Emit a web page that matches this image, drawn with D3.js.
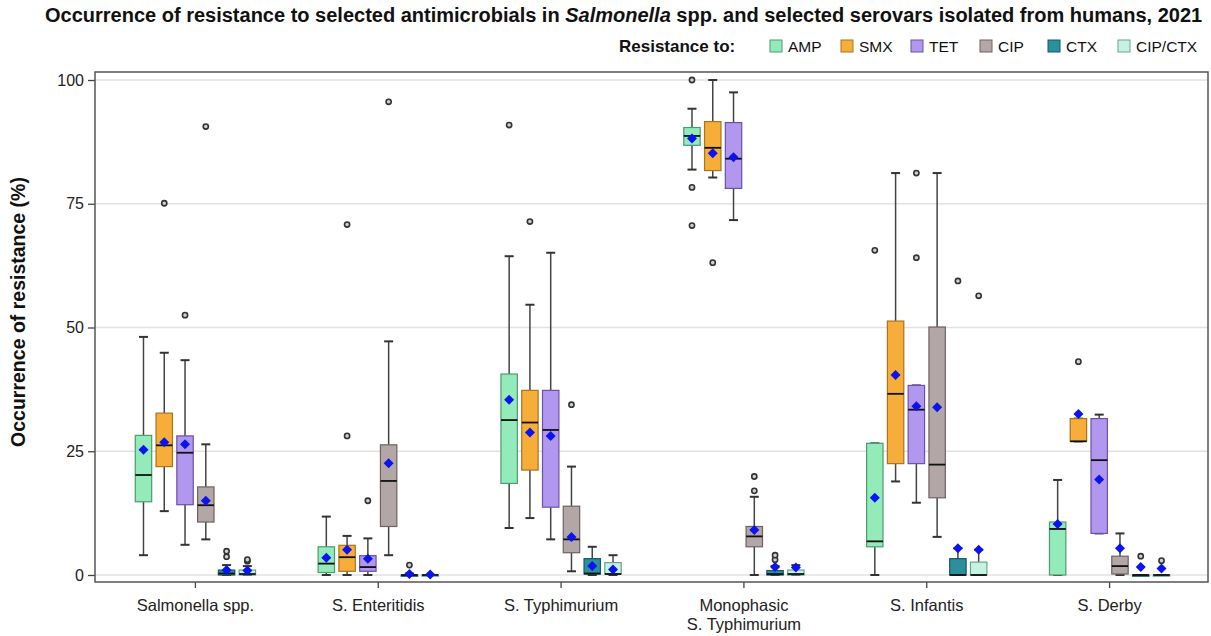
<!DOCTYPE html>
<html><head><meta charset="utf-8">
<script src="https://cdn.jsdelivr.net/npm/d3@7"></script>
<style>body{margin:0;background:#fff}svg{display:block}text{font-family:"Liberation Sans",Arial,sans-serif}</style>
</head><body><svg id="c" width="1211" height="636"></svg>
<script>
const categories = ["Salmonella spp.", "S. Enteritidis", "S. Typhimurium", "Monophasic\nS. Typhimurium", "S. Infantis", "S. Derby"];
const drugs = ["AMP", "SMX", "TET", "CIP", "CTX", "CIP/CTX"];
const yTicks = [0, 25, 50, 75, 100];
// each row: one category, each entry: one drug
const whiskerLow = [
  [4.0, 12.9, 6.1, 7.2, 0, 0],
  [0, 0, 0, 4.0, 0, 0],
  [9.5, 11.5, 7.2, 0.75, 0, 0],
  [81.9, 80.3, 71.7, 0, 0, 0],
  [0, 18.9, 14.6, 7.7, 0, 0],
  [0, 27.0, 8.4, 0, 0, 0]
];
const q1 = [
  [14.8, 21.9, 14.2, 10.7, 0, 0],
  [0.5, 0.75, 0.75, 9.8, 0, 0],
  [18.5, 21.2, 13.7, 4.5, 0.2, 0.2],
  [86.8, 81.7, 78.1, 5.7, 0, 0],
  [5.7, 22.5, 22.5, 15.6, 0, 0],
  [0, 27.0, 8.4, 0.2, 0, 0]
];
const median = [
  [20.2, 26.2, 24.7, 14.1, 0.3, 0.2],
  [2.3, 3.6, 1.6, 19.0, 0, 0],
  [31.3, 30.8, 29.3, 7.2, 0.3, 0.2],
  [88.7, 86.3, 84.1, 7.8, 0.2, 0.2],
  [6.8, 36.6, 33.4, 22.3, 0, 0],
  [9.3, 27.0, 23.2, 1.8, 0, 0]
];
const q3 = [
  [28.2, 32.7, 28.1, 17.8, 1.0, 1.0],
  [5.7, 6.0, 3.9, 26.3, 0, 0],
  [40.6, 37.3, 37.3, 13.9, 3.3, 2.5],
  [90.4, 91.6, 91.4, 9.8, 0.9, 1.0],
  [26.6, 51.3, 38.3, 50.1, 3.3, 2.6],
  [10.7, 31.6, 31.6, 3.8, 0, 0]
];
const whiskerHigh = [
  [48.1, 44.9, 43.4, 26.4, 2.0, 1.8],
  [11.8, 7.9, 7.4, 47.2, 0.3, 0],
  [64.4, 54.6, 65.1, 21.9, 5.7, 4.0],
  [94.2, 100, 97.5, 15.8, 1.8, 2.0],
  [26.6, 81.2, 38.3, 81.2, 5.4, 5.1],
  [19.2, 31.6, 32.4, 8.4, 0, 0]
];
const means = [
  [25.3, 26.8, 26.4, 15.0, 1.0, 0.9],
  [3.5, 5.1, 3.3, 22.6, 0.2, 0.1],
  [35.4, 28.8, 28.1, 7.7, 1.8, 1.1],
  [88.2, 85.2, 84.4, 9.1, 1.6, 1.5],
  [15.6, 40.4, 34.1, 33.9, 5.4, 5.1],
  [10.3, 32.5, 19.3, 5.4, 1.6, 1.3]
];
const outliers = [
  [[], [75.1], [52.5], [90.6], [3.7, 4.8], [2.8, 3.1]],
  [[], [28.1, 70.8], [15.0], [95.6], [2.0], []],
  [[90.9], [71.4], [], [34.4], [], []],
  [[100, 78.3, 70.6], [63.1], [], [17.0, 19.9], [3.1, 4.0], []],
  [[65.6], [], [64.1, 81.2], [], [59.4], [56.4]],
  [[], [43.1], [], [], [3.8], [2.9]]
];
const fills = ["#93ebba", "#f6ad3a", "#b297ee", "#b2a6a6", "#2b8f9c", "#c6f3e1"];
const strokes = ["#4f9a70", "#a8741e", "#6a52a8", "#6e6262", "#155a64", "#6aa490"];

const svg = d3.select("#c");
const frame = {l: 95, r: 1208, t: 72, b: 582};
const x = d3.scaleBand().domain(categories).range([104, 1201]).padding(0);
const xi = d3.scaleBand().domain(drugs).range([-64.5, 64.5]).padding(0.21);
const y = d3.scaleLinear().domain([0, 100]).range([575, 80]);

// title
const title = svg.append("text").attr("x", 45).attr("y", 22)
  .attr("font-size", 16).attr("font-weight", "bold").attr("fill", "#111");
title.append("tspan").text("Occurrence of resistance to selected antimicrobials in ");
title.append("tspan").attr("font-style", "italic").text("Salmonella");
title.append("tspan").text(" spp. and selected serovars isolated from humans, 2021");
const tw = title.node().getComputedTextLength();
title.attr("font-size", 16 * 1158 / tw);

// legend
const legY = 46;
svg.append("text").attr("x", 619).attr("y", legY + 6).attr("font-size", 17)
  .attr("font-weight", "bold").attr("fill", "#111").text("Resistance to:");
const legX = [776, 847, 917, 986, 1054, 1124];
drugs.forEach((d, i) => {
  svg.append("rect").attr("x", legX[i] - 6).attr("y", legY - 6).attr("width", 12).attr("height", 12)
    .attr("fill", fills[i]).attr("stroke", strokes[i]).attr("stroke-width", 1);
  svg.append("text").attr("x", legX[i] + 12).attr("y", legY + 6).attr("font-size", 15.5)
    .attr("fill", "#111").text(d);
});

// gridlines
svg.append("g").selectAll("line").data(yTicks).join("line")
  .attr("x1", frame.l).attr("x2", frame.r)
  .attr("y1", d => y(d)).attr("y2", d => y(d))
  .attr("stroke", "#e2e2e2").attr("stroke-width", 1.5);

// y axis
const ya = svg.append("g").attr("transform", `translate(${frame.l},0)`)
  .call(d3.axisLeft(y).tickValues(yTicks).tickSize(7).tickPadding(4));
ya.select(".domain").remove();
ya.selectAll("line").attr("stroke", "#444").attr("stroke-width", 1.3);
ya.selectAll("text").attr("font-size", 16).attr("fill", "#222")
  .attr("font-family", '"Liberation Sans",Arial,sans-serif');

svg.append("text").attr("transform", "translate(25,312) rotate(-90)")
  .attr("text-anchor", "middle").attr("font-size", 19.5).attr("font-weight", "bold")
  .attr("fill", "#111").text("Occurrence of resistance (%)");

// x axis
const xa = svg.append("g").attr("transform", `translate(0,${frame.b})`)
  .call(d3.axisBottom(x).tickSize(6).tickFormat(""));
xa.select(".domain").remove();
xa.selectAll("line").attr("stroke", "#444").attr("stroke-width", 1.3);
categories.forEach(c => {
  const lines = c.split("\n");
  const t = svg.append("text").attr("x", x(c) + x.bandwidth() / 2).attr("y", 611)
    .attr("text-anchor", "middle").attr("font-size", 16.5).attr("fill", "#222");
  lines.forEach((ln, k) => t.append("tspan").attr("x", x(c) + x.bandwidth() / 2)
    .attr("dy", k === 0 ? 0 : 19).text(ln));
});

// boxes
const bw = xi.bandwidth();
const capW = 9;
const g = svg.append("g");
categories.forEach((c, ci) => {
  drugs.forEach((d, di) => {
    const cx = x(c) + x.bandwidth() / 2 + xi(d) + bw / 2;
    const lo = whiskerLow[ci][di], hi = whiskerHigh[ci][di];
    const a = q1[ci][di], b = q3[ci][di], m = median[ci][di];
    const gg = g.append("g");
    gg.append("line").attr("x1", cx).attr("x2", cx).attr("y1", y(hi)).attr("y2", y(b))
      .attr("stroke", "#444").attr("stroke-width", 1.5);
    gg.append("line").attr("x1", cx).attr("x2", cx).attr("y1", y(a)).attr("y2", y(lo))
      .attr("stroke", "#444").attr("stroke-width", 1.5);
    [lo, hi].forEach(v => gg.append("line").attr("x1", cx - capW / 2).attr("x2", cx + capW / 2)
      .attr("y1", y(v)).attr("y2", y(v)).attr("stroke", "#333").attr("stroke-width", 2));
    gg.append("rect").attr("x", cx - bw / 2).attr("width", bw)
      .attr("y", y(b)).attr("height", Math.max(y(a) - y(b), 1.2))
      .attr("fill", fills[di]).attr("stroke", strokes[di]).attr("stroke-width", 1.2);
    gg.append("line").attr("x1", cx - bw / 2).attr("x2", cx + bw / 2)
      .attr("y1", y(m)).attr("y2", y(m)).attr("stroke", "#111").attr("stroke-width", 1.8);
    outliers[ci][di].forEach(v => gg.append("circle").attr("cx", cx).attr("cy", y(v)).attr("r", 2.6)
      .attr("fill", "#d0d0d0").attr("stroke", "#333").attr("stroke-width", 1.6));
    gg.append("path").attr("transform", `translate(${cx},${y(means[ci][di])}) rotate(45)`)
      .attr("d", d3.symbol(d3.symbolSquare, 50)()).attr("fill", "#0a14f0");
  });
});

// frame
svg.append("rect").attr("x", frame.l).attr("y", frame.t)
  .attr("width", frame.r - frame.l).attr("height", frame.b - frame.t)
  .attr("fill", "none").attr("stroke", "#555").attr("stroke-width", 1.5);
</script></body></html>
